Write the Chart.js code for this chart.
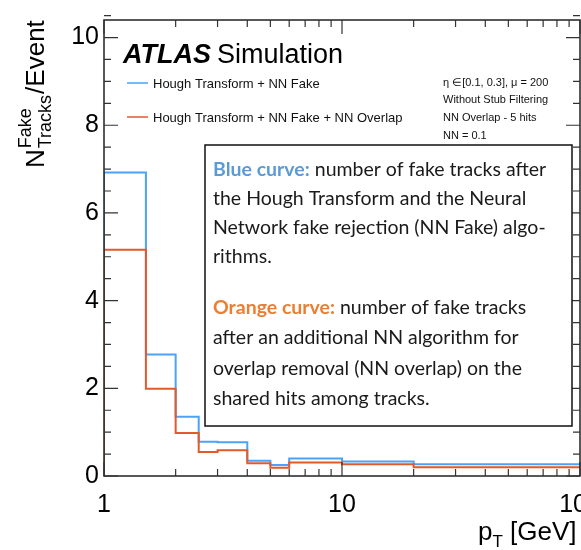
<!DOCTYPE html>
<html>
<head>
<meta charset="utf-8">
<script src="https://cdn.jsdelivr.net/npm/chart.js@4/dist/chart.umd.min.js"></script>
<style>
  html, body { margin: 0; padding: 0; background: #fff; overflow: hidden; }
  #wrap { width: 620px; height: 550px; }
</style>
</head>
<body>
<div id="wrap"><canvas id="c" width="620" height="550"></canvas></div>
<script>
// ---- data ----
const binEdges = [1, 1.5, 2, 2.5, 3, 4, 5, 6, 10, 20, 100];
const blueValues = [6.92, 2.77, 1.35, 0.78, 0.77, 0.35, 0.25, 0.40, 0.33, 0.27];
const orangeValues = [5.16, 1.99, 0.98, 0.55, 0.59, 0.29, 0.19, 0.31, 0.27, 0.20];
const seriesLabels = ['Hough Transform + NN Fake', 'Hough Transform + NN Fake + NN Overlap'];
const yTickValues = [0, 2, 4, 6, 8, 10];
const yMinorValues = [0.5,1,1.5,2.5,3,3.5,4.5,5,5.5,6.5,7,7.5,8.5,9,9.5,10.5];
const xTickValues = [1,2,3,4,5,6,7,8,9,10,20,30,40,50,60,70,80,90,100];
const xLabelValues = [1, 10, 100];
const infoLines = ['\u03B7 \u2208[0.1, 0.3], \u03BC = 200', 'Without Stub Filtering', 'NN Overlap - 5 hits', 'NN = 0.1'];
const blueNote = [['Blue curve:', ' number of fake tracks after'], ['', 'the Hough Transform and the Neural'], ['', 'Network fake rejection (NN Fake) algo-'], ['', 'rithms.']];
const orangeNote = [['Orange curve:', ' number of fake tracks'], ['', 'after an additional NN algorithm for'], ['', 'overlap removal (NN overlap) on the'], ['', 'shared hits among tracks.']];

const BLUE = '#4ba3f7';
const ORANGE = '#e3592b';
const SANS = '"Liberation Sans", Arial, Helvetica, sans-serif';
const NOTE_FONT = 'Lato, "Open Sans", sans-serif';

// points at right bin edges; Chart.js 'after' stepping holds each value over the preceding bin
function stepPoints(vals) {
  const pts = [{x: binEdges[0], y: 0}];
  vals.forEach((v, i) => pts.push({x: binEdges[i + 1], y: v}));
  return pts;
}

const decor = {
  id: 'decor',
  afterDraw(chart) {
    const ctx = chart.ctx;
    const xs = chart.scales.x, ys = chart.scales.y;
    const a = chart.chartArea;
    ctx.save();
    // frame
    ctx.strokeStyle = '#222';
    ctx.lineWidth = 1.5;
    ctx.strokeRect(a.left, a.top, a.right - a.left, a.bottom - a.top);
    // y ticks (inward, both sides)
    ctx.lineWidth = 1.2;
    ctx.strokeStyle = '#333';
    const yt = (v, len) => {
      const p = ys.getPixelForValue(v);
      ctx.beginPath();
      ctx.moveTo(a.left, p); ctx.lineTo(a.left + len, p);
      ctx.moveTo(a.right, p); ctx.lineTo(a.right - len, p);
      ctx.stroke();
    };
    yTickValues.forEach(v => yt(v, 14));
    yMinorValues.forEach(v => yt(v, 7));
    // x ticks (inward, top & bottom)
    xTickValues.forEach(v => {
      const p = xs.getPixelForValue(v);
      const len = xLabelValues.includes(v) ? 14 : 7;
      ctx.beginPath();
      ctx.moveTo(p, a.bottom); ctx.lineTo(p, a.bottom - len);
      ctx.moveTo(p, a.top); ctx.lineTo(p, a.top + len);
      ctx.stroke();
    });

    // ATLAS Simulation
    ctx.fillStyle = '#000';
    ctx.textBaseline = 'alphabetic';
    ctx.font = 'italic bold 27px ' + SANS;
    ctx.fillText('ATLAS', 123, 63);
    ctx.font = '27px ' + SANS;
    ctx.fillText('Simulation', 217, 63);

    // legend
    const legY = [83, 117];
    [BLUE, ORANGE].forEach((col, i) => {
      ctx.strokeStyle = col;
      ctx.lineWidth = 1.5;
      ctx.beginPath();
      ctx.moveTo(127, legY[i]); ctx.lineTo(148, legY[i]);
      ctx.stroke();
      ctx.fillStyle = '#111';
      ctx.font = '13px ' + SANS;
      ctx.fillText(seriesLabels[i], 153, legY[i] + 4.5);
    });

    // info text
    ctx.font = '11px ' + SANS;
    ctx.fillStyle = '#111';
    infoLines.forEach((t, i) => ctx.fillText(t, 443, 85.5 + i * 17.7));

    // note box
    ctx.fillStyle = '#fff';
    ctx.fillRect(205, 145, 367, 281);
    ctx.strokeStyle = '#111';
    ctx.lineWidth = 1.5;
    ctx.strokeRect(205, 145, 367, 281);
    const drawNote = (lines, col, y0, dy) => {
      lines.forEach((ln, i) => {
        let x = 213;
        const y = y0 + i * dy;
        if (ln[0]) {
          ctx.font = 'bold 19.5px ' + NOTE_FONT;
          ctx.fillStyle = col;
          ctx.fillText(ln[0], x, y);
          x += ctx.measureText(ln[0]).width;
        }
        ctx.font = '19.5px ' + NOTE_FONT;
        ctx.fillStyle = '#1a1a1a';
        ctx.fillText(ln[1], x, y);
      });
    };
    drawNote(blueNote, '#5b9bd5', 176, 28.9);
    drawNote(orangeNote, '#ed7d31', 313.5, 30.5);

    // y-axis title (rotated)
    ctx.fillStyle = '#000';
    ctx.translate(44, 168);
    ctx.rotate(-Math.PI / 2);
    ctx.font = '26px ' + SANS;
    ctx.fillText('N', 0, 0);
    let w = ctx.measureText('N').width + 1;
    ctx.font = '18px ' + SANS;
    ctx.fillText('Fake', w, -13);
    ctx.fillText('Tracks', w, 7);
    const w2 = Math.max(ctx.measureText('Fake').width, ctx.measureText('Tracks').width);
    ctx.font = '26px ' + SANS;
    ctx.fillText('/Event', w + w2 + 1, 0);
    ctx.setTransform(1, 0, 0, 1, 0, 0);

    // x-axis title
    ctx.font = '26px ' + SANS;
    ctx.fillText('p', 478, 540);
    let px = 478 + ctx.measureText('p').width;
    ctx.font = '17px ' + SANS;
    ctx.fillText('T', px, 547);
    px += ctx.measureText('T').width;
    ctx.font = '26px ' + SANS;
    ctx.fillText(' [GeV]', px, 540);
    ctx.restore();
  }
};

new Chart(document.getElementById('c'), {
  type: 'line',
  data: {
    datasets: [
      { label: seriesLabels[1], data: stepPoints(orangeValues), stepped: 'after', borderColor: ORANGE, borderWidth: 2, pointRadius: 0, fill: false },
      { label: seriesLabels[0], data: stepPoints(blueValues), stepped: 'after', borderColor: BLUE, borderWidth: 2, pointRadius: 0, fill: false }
    ]
  },
  options: {
    responsive: false,
    animation: false,
    events: [],
    layout: { padding: { top: 18, right: 40, left: 0, bottom: 0 } },
    plugins: { legend: { display: false }, tooltip: { enabled: false } },
    scales: {
      x: {
        type: 'logarithmic', min: 1, max: 100,
        grid: { display: false, drawTicks: false },
        border: { display: false },
        afterBuildTicks: s => { s.ticks = xTickValues.map(v => ({ value: v, major: xLabelValues.includes(v) })); },
        afterFit: s => { s.height = 74; },
        ticks: {
          autoSkip: false, maxRotation: 0, padding: 14, color: '#000',
          font: { family: SANS, size: 25 },
          callback: v => xLabelValues.includes(v) ? String(v) : ''
        }
      },
      y: {
        type: 'linear', min: 0, max: 10.4,
        grid: { display: false, drawTicks: false },
        border: { display: false },
        afterBuildTicks: s => { s.ticks = yTickValues.map(v => ({ value: v })); },
        afterFit: s => { s.width = 104; },
        ticks: { padding: 5, color: '#000', font: { family: SANS, size: 25 }, callback: v => String(v) }
      }
    }
  },
  plugins: [decor]
});
</script>
</body>
</html>
